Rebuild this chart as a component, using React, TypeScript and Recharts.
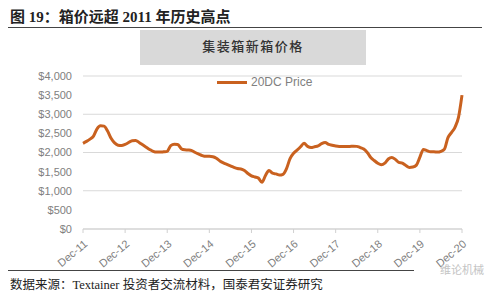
import { LineChart, Line, XAxis, YAxis, CartesianGrid } from "recharts";

// monthly labels, Dec-11 .. Dec-20
const monthNames = ["Jan", "Feb", "Mar", "Apr", "May", "Jun", "Jul", "Aug", "Sep", "Oct", "Nov", "Dec"];
const months: string[] = ["Dec-11"];
for (let y = 12; y <= 20; y++) {
  for (const m of monthNames) months.push(`${m}-${y}`);
}

// 20DC new box price, USD
const price = [
  2240,
  2290, 2350, 2430, 2620, 2700, 2690, 2560, 2370, 2250, 2190, 2180, 2210,
  2260, 2310, 2316, 2260, 2200, 2140, 2080, 2030, 2010, 2010, 2020, 2030,
  2180, 2215, 2210, 2100, 2070, 2065, 2050, 2000, 1960, 1920, 1900, 1900,
  1890, 1850, 1780, 1730, 1690, 1650, 1610, 1580, 1570, 1530, 1450, 1390,
  1360, 1330, 1220, 1400, 1530, 1460, 1440, 1410, 1430, 1580, 1840, 1980,
  2060, 2150, 2240, 2160, 2130, 2150, 2170, 2230, 2260, 2210, 2190, 2170,
  2160, 2160, 2160, 2160, 2165, 2160, 2130, 2090, 2000, 1870, 1790, 1720,
  1680, 1720, 1830, 1870, 1820, 1740, 1720, 1660, 1610, 1620, 1670, 1880,
  2080, 2050, 2020, 2020, 2010, 2030, 2090, 2390, 2520, 2660, 2920, 3500,
];

const xTicks = ["Dec-11", "Dec-12", "Dec-13", "Dec-14", "Dec-15", "Dec-16", "Dec-17", "Dec-18", "Dec-19", "Dec-20"];
const yTicks = [0, 500, 1000, 1500, 2000, 2500, 3000, 3500, 4000];

const data = months.map((month, i) => ({ month, price: price[i] }));

const LINE_COLOR = "#C9611F";
const AXIS_TEXT = "#808080";

const AngledTick = ({ x, y, payload }: any) => (
  <g transform={`translate(${x},${y + 4})`}>
    <text
      textAnchor="end"
      fill={AXIS_TEXT}
      fontSize={11}
      fontFamily="'Liberation Sans', Arial, sans-serif"
      transform="rotate(-40)"
      dy={8}
    >
      {payload.value}
    </text>
  </g>
);

export default function App() {
  return (
    <div style={{ position: "absolute", left: 0, top: 0, width: 500, height: 300, background: "#fff", overflow: "hidden" }}>
      <div
        style={{
          position: "absolute", left: 10, top: 5, fontSize: 15, fontWeight: "bold", color: "#222",
          fontFamily: "'Liberation Serif', 'Noto Sans CJK SC', serif", whiteSpace: "nowrap",
        }}
      >
        图 19：箱价远超 2011 年历史高点
      </div>
      <div style={{ position: "absolute", left: 8, top: 27, width: 474, height: 0, borderTop: "1.5px solid #444" }} />

      <div
        style={{
          position: "absolute", left: 140, top: 30, width: 226, height: 35, background: "#d9d9d9",
          display: "flex", justifyContent: "center", paddingTop: 6, boxSizing: "border-box",
          fontFamily: "'Noto Sans CJK SC', sans-serif", fontSize: 13, fontWeight: 500, color: "#333", letterSpacing: 1.5,
        }}
      >
        集装箱新箱价格
      </div>

      <div style={{ position: "absolute", left: 0, top: 0 }}>
        <LineChart width={500} height={300} data={data} margin={{ top: 76, right: 38, bottom: 31, left: 10 }}>
          <CartesianGrid vertical={false} stroke="#d9d9d9" />
          <XAxis
            dataKey="month"
            ticks={xTicks}
            interval={0}
            height={40}
            stroke="#d0d0d0"
            tickSize={4}
            tick={<AngledTick />}
          />
          <YAxis
            domain={[0, 4000]}
            ticks={yTicks}
            width={73}
            axisLine={false}
            tickLine={false}
            tickMargin={5}
            tickFormatter={(v: number) => `$${v.toLocaleString("en-US")}`}
            tick={{ fill: AXIS_TEXT, fontSize: 11, fontFamily: "'Liberation Sans', Arial, sans-serif" }}
          />
          <Line
            type="monotone"
            dataKey="price"
            stroke={LINE_COLOR}
            strokeWidth={3}
            dot={false}
            isAnimationActive={false}
          />
        </LineChart>
      </div>

      {/* legend */}
      <div style={{ position: "absolute", left: 217, top: 75, display: "flex", alignItems: "center", gap: 4 }}>
        <div style={{ width: 30, height: 3, background: LINE_COLOR }} />
        <span style={{ fontSize: 12, color: AXIS_TEXT, fontFamily: "'Liberation Sans', Arial, sans-serif" }}>20DC Price</span>
      </div>

      <div style={{ position: "absolute", left: 8, top: 270, width: 406, height: 0, borderTop: "1.5px solid #444" }} />
      <div
        style={{
          position: "absolute", left: 10, top: 274, fontSize: 12.5, color: "#222",
          fontFamily: "'Liberation Serif', 'Noto Sans CJK SC', serif", whiteSpace: "nowrap",
        }}
      >
        数据来源：Textainer 投资者交流材料，国泰君安证券研究
      </div>
      <div
        style={{
          position: "absolute", left: 440, top: 261, fontSize: 11, color: "#c4c4c4",
          fontFamily: "'Noto Sans CJK SC', sans-serif", whiteSpace: "nowrap",
        }}
      >
        维论机械
      </div>
    </div>
  );
}
